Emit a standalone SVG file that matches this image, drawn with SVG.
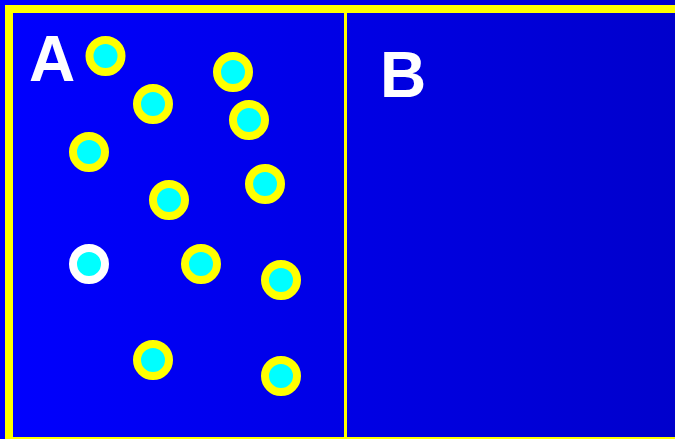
<svg xmlns="http://www.w3.org/2000/svg" width="675" height="439" viewBox="0 0 675 439">
<defs>
<linearGradient id="bg" x1="0" y1="0" x2="675" y2="0" gradientUnits="userSpaceOnUse">
<stop offset="0" stop-color="#0000FF"/>
<stop offset="1" stop-color="#0000CC"/>
</linearGradient>
</defs>
<style>
.p{stroke:#FFFF00;stroke-width:8;fill:#00FFFF}
.w{stroke:#FFFFFF;stroke-width:8;fill:#00FFFF}
.lbl{font-family:"Liberation Sans",Arial,sans-serif;font-weight:bold;font-size:64px;fill:#FFFFFF}
</style>
<rect x="0" y="0" width="675" height="439" fill="url(#bg)"/>
<rect x="9" y="9" width="680" height="432" fill="none" stroke="#FFFF00" stroke-width="8"/>
<line x1="345.5" y1="12" x2="345.5" y2="437" stroke="#FFFF00" stroke-width="3"/>
<text class="lbl" x="29" y="81">A</text>
<text class="lbl" x="380" y="97">B</text>
<g id="particles">
<circle class="p" cx="105.5" cy="56" r="16"/>
<circle class="p" cx="233" cy="72" r="16"/>
<circle class="p" cx="153" cy="104" r="16"/>
<circle class="p" cx="249" cy="120" r="16"/>
<circle class="p" cx="89" cy="152" r="16"/>
<circle class="p" cx="265" cy="184" r="16"/>
<circle class="p" cx="169" cy="200" r="16"/>
<circle class="w" cx="89" cy="264" r="16"/>
<circle class="p" cx="201" cy="264" r="16"/>
<circle class="p" cx="281" cy="280" r="16"/>
<circle class="p" cx="153" cy="360" r="16"/>
<circle class="p" cx="281" cy="376" r="16"/>
</g>
</svg>
